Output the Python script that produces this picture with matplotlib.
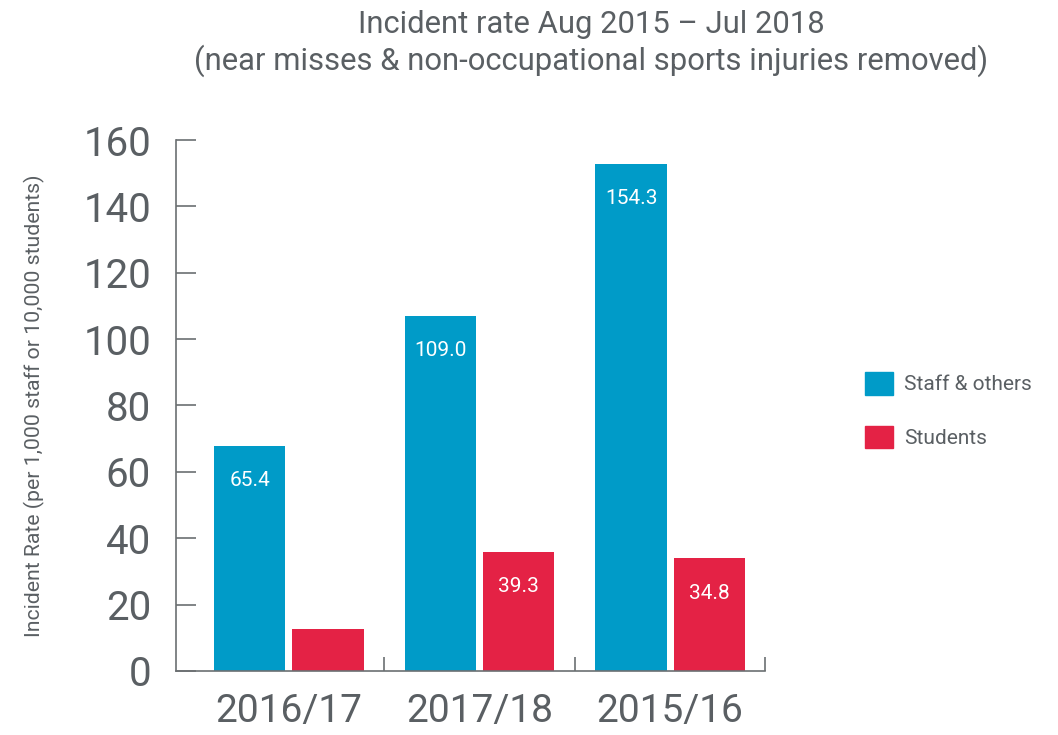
import numpy as np
import matplotlib
matplotlib.use('Agg')
import matplotlib.pyplot as plt
from matplotlib.patches import Patch

plt.rcParams['font.family'] = ['Roboto', 'DejaVu Sans']

# ---- data ----
years = ['2016/17', '2017/18', '2015/16']
staff = [67.9, 107.1, 152.8]
students = [12.6, 35.8, 33.9]
staff_labels = ['65.4', '109.0', '154.3']
student_labels = ['', '39.3', '34.8']
yticks = [0, 20, 40, 60, 80, 100, 120, 140, 160]

blue = '#009bc8'
red = '#e42245'
grey = '#5a5f63'
axis_grey = '#6b6f72'

fig = plt.figure(figsize=(10.58, 7.35), dpi=100)
ax = fig.add_axes([0.1664, 0.0871, 0.557, 0.7224])

x = np.arange(len(years))
w = 0.374
b1 = ax.bar(x - 0.204, staff, w, color=blue, label='Staff & others')
b2 = ax.bar(x + 0.206, students, w, color=red, label='Students')

for bars, labels in [(b1, staff_labels), (b2, student_labels)]:
    for rect, lab in zip(bars, labels):
        if not lab:
            continue
        ax.annotate(lab, (rect.get_x() + rect.get_width() / 2, rect.get_height()),
                    xytext=(0, -25), textcoords='offset points',
                    ha='center', va='center', color='white', fontsize=15)

ax.set_xlim(-0.59, 2.497)
ax.set_ylim(0, 160)
ax.set_yticks(yticks)
ax.set_xticks(x)
ax.set_xticklabels(years)
ax.set_xticks([0.5, 1.5, 2.5], minor=True)

ax.tick_params(axis='y', direction='in', length=14.5, width=1.2, color=axis_grey,
               labelsize=29, labelcolor=grey, pad=18)
ax.tick_params(axis='x', which='major', length=0, labelsize=28, labelcolor=grey, pad=16)
ax.tick_params(axis='x', which='minor', direction='in', length=10, width=1.2, color=axis_grey)

for s in ['top', 'right']:
    ax.spines[s].set_visible(False)
for s in ['left', 'bottom']:
    ax.spines[s].set_color(axis_grey)
    ax.spines[s].set_linewidth(1.2)

ax.set_ylabel('Incident Rate (per 1,000 staff or 10,000 students)',
              fontsize=15.3, color=grey)
ax.yaxis.set_label_coords(-0.222, 0.5)

fig.text(0.559, 0.941, 'Incident rate Aug 2015 \u2013 Jul 2018\n'
         '(near misses & non-occupational sports injuries removed)',
         ha='center', va='center', fontsize=22.3, color=grey, linespacing=1.22)

handles = [Patch(color=blue, label='Staff & others'), Patch(color=red, label='Students')]
fig.legend(handles=handles, loc='center left', bbox_to_anchor=(0.818, 0.442),
           frameon=False, fontsize=15, labelcolor=grey,
           handlelength=1.3, handleheight=1.3, handletextpad=0.55,
           labelspacing=1.5, borderpad=0, borderaxespad=0)

fig.savefig('out.png', dpi=100)
